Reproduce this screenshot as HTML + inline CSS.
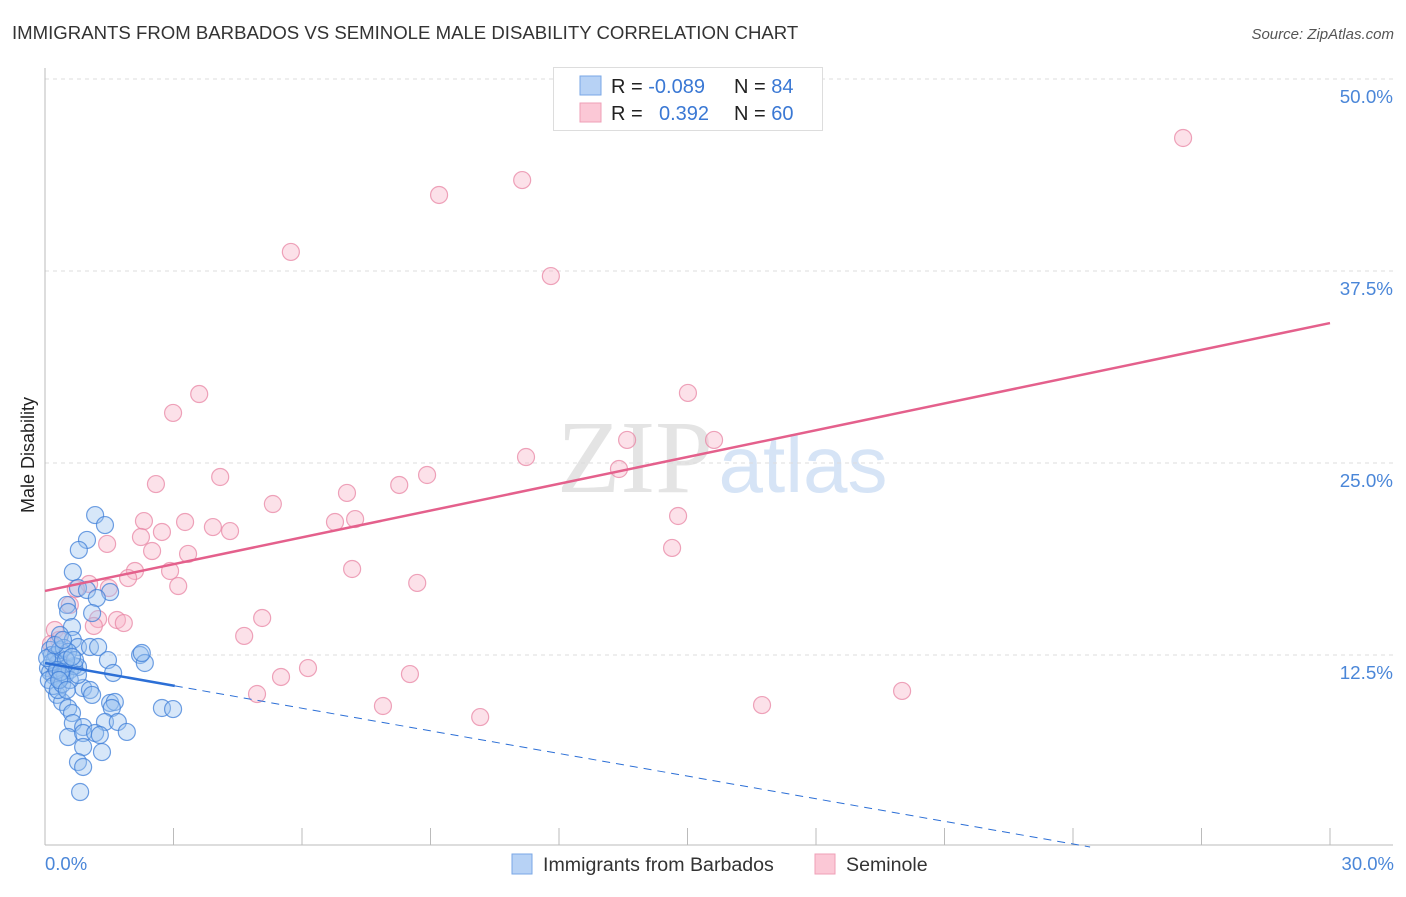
<!DOCTYPE html>
<html><head><meta charset="utf-8"><style>
body{margin:0;background:#fff;font-family:"Liberation Sans",sans-serif;}
svg text{font-family:"Liberation Sans",sans-serif;}
</style></head><body>
<svg id="chart" width="1406" height="892" viewBox="0 0 1406 892">
<text x="12" y="39" font-size="18.6" fill="#333">IMMIGRANTS FROM BARBADOS VS SEMINOLE MALE DISABILITY CORRELATION CHART</text>
<text x="1394" y="39" font-size="15" fill="#555" font-style="italic" text-anchor="end">Source: ZipAtlas.com</text>
<g>
<text x="635" y="492" font-size="104" fill="#e4e4e4" text-anchor="middle" font-family="Liberation Serif, serif" style="font-family:'Liberation Serif',serif">ZIP</text>
<text x="803" y="492" font-size="80" fill="#d6e4f6" text-anchor="middle">atlas</text>
</g>
<g id="grid"></g>
<g id="axes"></g>
<g id="pts"></g>
<g id="trend"></g>
<text transform="translate(34,455) rotate(-90)" font-size="18" fill="#222" text-anchor="middle">Male Disability</text>
<text x="45" y="870" font-size="18.5" fill="#4a86d8">0.0%</text>
<text x="1394" y="870" font-size="18.5" fill="#4a86d8" text-anchor="end">30.0%</text>
<g>
<rect x="553.5" y="67.5" width="269" height="63" fill="#fff" stroke="#ddd"/>
<rect x="580" y="76" width="21" height="19" fill="#b7d2f5" stroke="#7aa7e6"/>
<rect x="580" y="103" width="21" height="19" fill="#fbc8d6" stroke="#ef9fb7"/>
<text x="611" y="93" font-size="20" fill="#222">R = <tspan fill="#3a78d4">-0.089</tspan></text>
<text x="734" y="93" font-size="20" fill="#222">N = <tspan fill="#3a78d4">84</tspan></text>
<text x="611" y="120" font-size="20" fill="#222">R = </text>
<text x="659" y="120" font-size="20" fill="#3a78d4">0.392</text>
<text x="734" y="120" font-size="20" fill="#222">N = <tspan fill="#3a78d4">60</tspan></text>
</g>
<g>
<rect x="512" y="854" width="20" height="20" fill="#b7d2f5" stroke="#7aa7e6"/>
<text x="543" y="871" font-size="19.6" fill="#333">Immigrants from Barbados</text>
<rect x="815" y="854" width="20" height="20" fill="#fbc8d6" stroke="#ef9fb7"/>
<text x="846" y="871" font-size="19.6" fill="#333">Seminole</text>
</g>
</svg>
<script>
const yTicks=[12.5,25,37.5,50];
const yTickLabels=["12.5%","25.0%","37.5%","50.0%"];
const xTicks=[0,3,6,9,12,15,18,21,24,27,30];
const blueX=[1.17,1.40,0.98,0.79,0.65,0.77,0.98,1.52,1.21,0.51,0.54,1.10,0.63,0.35,0.65,0.77,1.05,1.24,1.47,1.59,2.22,2.33,2.26,0.77,2.73,2.99,0.89,1.05,1.10,0.28,0.40,0.54,0.63,1.52,1.63,1.56,0.65,0.89,1.40,1.70,0.54,0.89,1.17,1.28,1.91,0.89,1.33,0.77,0.89,0.82,0.12,0.16,0.23,0.30,0.40,0.49,0.07,0.12,0.21,0.35,0.47,0.58,0.68,0.26,0.35,0.44,0.54,0.16,0.05,0.09,0.19,0.30,0.40,0.58,0.70,0.77,0.49,0.28,0.37,0.63,0.23,0.42,0.33,0.51];
const blueY=[21.61,20.96,19.99,19.34,17.90,16.86,16.73,16.60,16.21,15.76,15.30,15.23,14.32,13.80,13.48,13.02,13.02,13.02,12.17,11.33,12.50,11.98,12.63,11.72,9.05,8.98,10.35,10.22,9.90,9.90,9.44,9.05,8.72,9.38,9.44,9.05,8.07,7.81,8.14,8.14,7.16,7.42,7.42,7.29,7.49,6.51,6.18,5.53,5.21,3.58,12.83,12.50,12.17,11.98,11.85,11.65,11.65,11.39,11.13,11.00,11.20,11.52,11.78,12.50,12.83,12.96,12.70,12.04,12.30,10.87,10.48,10.22,10.61,10.87,12.17,11.20,12.17,11.52,11.39,12.37,13.15,13.48,10.87,10.22];
const pinkX=[26.57,11.14,9.20,5.74,11.81,3.60,15.01,2.99,13.59,15.62,11.23,13.40,4.09,8.92,2.59,8.27,7.05,5.32,14.78,2.31,3.27,6.77,7.24,3.92,4.32,2.73,2.24,1.45,14.64,2.50,3.34,7.17,2.10,2.92,1.94,1.03,8.69,3.11,1.49,0.72,0.58,5.07,1.68,1.24,1.84,1.14,0.23,0.33,4.65,0.14,6.14,5.51,8.52,20.01,4.95,7.89,16.74,10.16,0.35,0.26];
const pinkY=[46.16,43.42,42.45,38.74,37.17,29.49,29.56,28.26,26.50,26.50,25.39,24.61,24.09,24.22,23.63,23.57,23.05,22.33,21.55,21.22,21.16,21.16,21.35,20.83,20.57,20.51,20.18,19.73,19.47,19.27,19.08,18.10,17.97,17.97,17.51,17.12,17.19,16.99,16.86,16.80,15.76,14.91,14.78,14.84,14.58,14.39,14.13,13.48,13.74,13.22,11.65,11.07,11.26,10.16,9.96,9.18,9.24,8.46,12.17,11.39];
const pinkTrend=[16.67,34.11];
const blueTrend=[11.98,-0.491];
const blueSolidEnd=3.03;
const NS="http://www.w3.org/2000/svg";
const X0=45,X1=1330,Y0=847;
function sx(v){return X0+(v/30)*(X1-X0);}
function sy(v){return Y0-v*15.36;}
function mk(tag,attrs,parent){const e=document.createElementNS(NS,tag);for(const k in attrs)e.setAttribute(k,attrs[k]);parent.appendChild(e);return e;}
const grid=document.getElementById('grid'),axes=document.getElementById('axes'),pts=document.getElementById('pts'),trend=document.getElementById('trend');
yTicks.forEach((t,i)=>{
 const l=mk('line',{x1:X0,x2:1393,y1:sy(t),y2:sy(t),stroke:'#ddd','stroke-dasharray':'4,4'},grid);
 
 
 const tx=mk('text',{x:1393,y:sy(t)+24,'font-size':18.8,fill:'#4a86d8','text-anchor':'end'},grid);
 tx.textContent=yTickLabels[i];
 
 
});
const ya=mk('line',{x1:X0,x2:X0,y1:68,y2:845,stroke:'#bbb'},axes);


const xa=mk('line',{x1:X0,x2:1393,y1:845,y2:845,stroke:'#bbb'},axes);


xTicks.forEach(t=>{
 const l=mk('line',{x1:sx(t),x2:sx(t),y1:828,y2:845,stroke:'#bbb'},axes);
 
 
});
function dots(xs,ys,fill,stroke,name){
 xs.forEach((x,i)=>{
  const c=mk('circle',{cx:sx(x),cy:sy(ys[i]),r:8.5,fill:fill,'fill-opacity':0.4,stroke:stroke,'stroke-opacity':0.75,'stroke-width':1.2},pts);
  
  
 });
}
dots(pinkX,pinkY,'#f7b4c8','#e886a4','seminole-point');
dots(blueX,blueY,'#9cc2f0','#3f7fd8','barbados-point');
const pl=mk('line',{x1:sx(0),y1:sy(pinkTrend[0]),x2:sx(30),y2:sy(pinkTrend[1]),stroke:'#e4608c','stroke-width':2.5},trend);


const by=x=>blueTrend[0]+blueTrend[1]*x;
const bl=mk('line',{x1:sx(0),y1:sy(by(0)),x2:sx(blueSolidEnd),y2:sy(by(blueSolidEnd)),stroke:'#2c6fd6','stroke-width':2.5},trend);


const xEnd=-blueTrend[0]/blueTrend[1];
const bd=mk('line',{x1:sx(blueSolidEnd),y1:sy(by(blueSolidEnd)),x2:sx(xEnd),y2:sy(0),stroke:'#2c6fd6','stroke-width':1,'stroke-dasharray':'8,6'},trend);


</script>
</body></html>
